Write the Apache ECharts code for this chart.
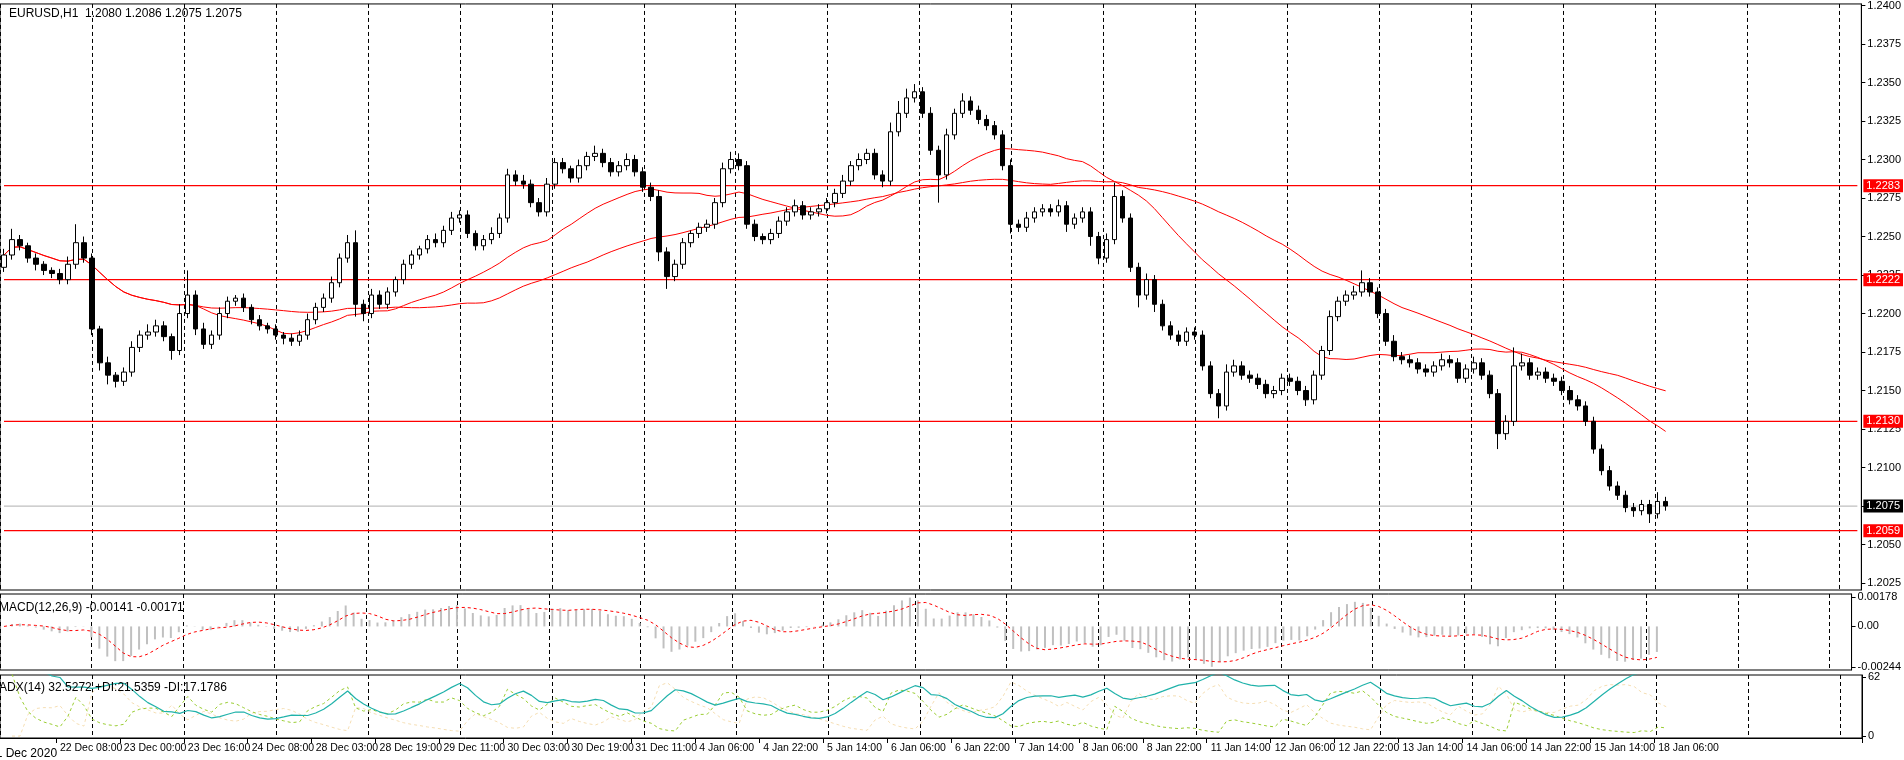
<!DOCTYPE html>
<html>
<head>
<meta charset="UTF-8">
<title>EURUSD,H1</title>
<script src="https://cdn.jsdelivr.net/npm/echarts@6/dist/echarts.min.js"></script>
<style>html,body{margin:0;background:#fff}#main{width:1904px;height:760px}</style>
</head>
<body>
<div id="main"></div>
<script>
// closes (one value per 2 hours)
var closes = [
1.2238,1.2248,1.2244,1.2236,1.2232,1.2228,1.2226,1.2222,1.2232,1.2246,1.2236,1.2190,1.2168,1.2160,1.2156,1.2162,1.2178,1.2186,1.2188,1.2192,
1.2185,1.2176,1.2200,1.2212,1.2190,1.2180,1.2186,1.2200,1.2208,1.2210,1.2204,1.2196,1.2192,1.2190,1.2186,1.2184,1.2182,1.2186,1.2196,1.2204,
1.2210,1.2220,1.2236,1.2246,1.2206,1.2200,1.2212,1.2206,1.2214,1.2222,1.2232,1.2238,1.2242,1.2248,1.2246,1.2254,1.2262,1.2264,1.2252,1.2244,
1.2248,1.2252,1.2262,1.2290,1.2286,1.2284,1.2272,1.2266,1.2284,1.2298,1.2294,1.2288,1.2296,1.2302,1.2304,1.2298,1.2292,1.2296,1.2300,1.2292,
1.2282,1.2276,1.2240,1.2224,1.2232,1.2246,1.2252,1.2256,1.2258,1.2272,1.2294,1.2300,1.2296,1.2258,1.2250,1.2248,1.2252,1.2260,1.2266,1.2270,
1.2264,1.2266,1.2268,1.2272,1.2278,1.2286,1.2296,1.2300,1.2304,1.2290,1.2286,1.2318,1.2330,1.2340,1.2344,1.2330,1.2306,1.2290,1.2316,1.2330,
1.2338,1.2332,1.2326,1.2322,1.2316,1.2296,1.2258,1.2256,1.2262,1.2266,1.2268,1.2266,1.2270,1.2258,1.2262,1.2266,1.2250,1.2236,1.2248,1.2276,
1.2262,1.2230,1.2212,1.2222,1.2206,1.2192,1.2186,1.2182,1.2188,1.2186,1.2166,1.2148,1.2140,1.2162,1.2166,1.2160,1.2158,1.2154,1.2148,1.2150,
1.2158,1.2156,1.2150,1.2144,1.2160,1.2176,1.2198,1.2208,1.2212,1.2214,1.2220,1.2214,1.2200,1.2182,1.2172,1.2170,1.2168,1.2164,1.2162,1.2166,
1.2170,1.2168,1.2158,1.2164,1.2168,1.2160,1.2148,1.2122,1.2130,1.2166,1.2168,1.2160,1.2162,1.2158,1.2156,1.2150,1.2144,1.2140,1.2130,1.2112,
1.2098,1.2088,1.2082,1.2074,1.2072,1.2076,1.2070,1.2078,1.2075
];
var firstOpen = 1.2230;
// wick lengths above / below the body, in pips
var wickHi = [
4,7,3,2,3,2,2,3,5,12,4,3,2,4,2,3,4,3,5,4, 3,2,6,16,3,4,3,4,3,2,3,2,3,2,3,2,3,3,4,3,
3,4,3,5,8,3,4,3,3,2,3,3,2,3,4,3,4,3,3,2, 3,4,3,4,3,4,3,3,4,3,3,2,4,3,5,3,3,3,4,3,
3,3,4,3,3,3,2,3,3,3,4,5,4,3,3,2,3,3,3,4, 3,3,3,3,3,4,3,4,3,3,3,6,8,6,5,3,4,3,4,3,
5,3,3,3,3,3,4,3,4,3,3,3,4,3,3,3,3,3,4,9, 4,3,3,4,3,3,3,3,3,3,3,3,3,5,4,3,3,3,3,3,
3,3,3,3,3,3,4,3,3,4,8,3,3,3,4,3,3,3,3,3, 4,3,3,3,4,3,3,3,4,12,6,3,3,3,3,3,3,3,3,3,
3,3,3,3,3,3,3,6,3
];
var wickLo = [
3,3,3,3,4,3,3,3,3,3,3,4,5,6,4,3,3,3,3,3, 3,6,3,3,4,3,3,3,3,3,3,3,3,3,3,4,3,3,3,3,
3,3,3,3,8,5,3,3,3,3,3,3,3,3,3,3,3,3,3,3, 3,3,3,3,3,3,3,3,3,3,3,3,3,3,3,3,3,3,3,3,
3,3,6,8,3,3,3,3,3,3,3,3,3,3,3,3,3,3,3,3, 3,3,3,3,3,3,3,3,3,3,4,3,3,3,3,3,3,18,3,3,
3,3,3,3,3,3,6,3,3,3,3,3,3,5,3,3,6,4,3,3, 3,3,8,3,5,3,3,3,3,3,3,3,8,3,3,3,3,3,3,3,
3,3,3,4,3,3,3,3,3,3,3,3,3,3,3,3,3,3,3,3, 3,3,3,3,3,3,3,10,4,3,3,3,3,3,3,3,3,3,3,3,
3,3,3,3,4,3,6,3,3
];
var timeLabels = ['22 Dec 08:00','23 Dec 00:00','23 Dec 16:00','24 Dec 08:00','28 Dec 03:00','28 Dec 19:00',
  '29 Dec 11:00','30 Dec 03:00','30 Dec 19:00','31 Dec 11:00','4 Jan 06:00','4 Jan 22:00','5 Jan 14:00',
  '6 Jan 06:00','6 Jan 22:00','7 Jan 14:00','8 Jan 06:00','8 Jan 22:00','11 Jan 14:00','12 Jan 06:00',
  '12 Jan 22:00','13 Jan 14:00','14 Jan 06:00','14 Jan 22:00','15 Jan 14:00','18 Jan 06:00'];
var firstLabel = '21 Dec 2020';
var levelsRed = [1.2283, 1.2222, 1.2130, 1.2059];
var lastPrice = 1.2075;
var priceTicks = [1.2025,1.2050,1.2075,1.2100,1.2125,1.2150,1.2175,1.2200,1.2225,1.2250,1.2275,1.2300,1.2325,1.2350,1.2375,1.2400];
var macdTicks = [0.00178, 0, -0.00244];
var adxTicks = [0, 62];

var N = 233, n = closes.length;
var cats = [], candles = [], highs = [], lows = [];
for (var i = 0; i < N; i++) cats.push(i);
for (var i = 0; i < n; i++) {
    var o = i ? closes[i-1] : firstOpen, c = closes[i];
    var h = Math.max(o, c) + wickHi[i] / 10000, l = Math.min(o, c) - wickLo[i] / 10000;
    highs.push(h); lows.push(l);
    candles.push([o, c, l, h]);
}
function sma(arr, p) {
    var out = [];
    for (var i = 0; i < arr.length; i++) {
        var s = 0, k = 0;
        for (var j = Math.max(0, i - p + 1); j <= i; j++) { s += arr[j]; k++; }
        out.push(s / k);
    }
    return out;
}
function ema(arr, p) {
    var a = 2 / (p + 1), out = [arr[0]];
    for (var i = 1; i < arr.length; i++) out.push(out[i-1] + a * (arr[i] - out[i-1]));
    return out;
}
var maFast = sma(closes, 25), maSlow = sma(closes, 50);
var e1 = ema(closes, 6), e2 = ema(closes, 13);
var macd = e1.map(function (v, i) { return v - e2[i]; });
var signal = sma(macd, 5);

// Wilder ADX
var P = 6, trS = 0, pS = 0, mS = 0, adx = [], pdi = [], mdi = [], adxV = null;
for (var i = 0; i < n; i++) {
    if (i === 0) { adx.push(null); pdi.push(null); mdi.push(null); continue; }
    var tr = Math.max(highs[i] - lows[i], Math.abs(highs[i] - closes[i-1]), Math.abs(lows[i] - closes[i-1]));
    var up = highs[i] - highs[i-1], dn = lows[i-1] - lows[i];
    var pdm = up > dn && up > 0 ? up : 0, mdm = dn > up && dn > 0 ? dn : 0;
    trS = trS - trS / P + tr; pS = pS - pS / P + pdm; mS = mS - mS / P + mdm;
    var p = 100 * pS / trS, m = 100 * mS / trS;
    var dx = (p + m) ? 100 * Math.abs(p - m) / (p + m) : 0;
    adxV = adxV === null ? dx : adxV + (dx - adxV) / P;
    pdi.push(p); mdi.push(m); adx.push(adxV);
}

var font = 'Liberation Sans';
var grids = [
    {left: 0, right: 42, top: 0, height: 590},
    {left: 0, right: 42, top: 594, height: 76},
    {left: 0, right: 42, top: 675, height: 63}
];
grids.forEach(function (g) { g.show = true; g.borderColor = '#000'; g.borderWidth = 1; });

function showLabel(i) { return i % 8 === 7 && i < n; }
var xAxes = [], yAxes = [];
for (var g = 0; g < 3; g++) {
    xAxes.push({
        type: 'category', gridIndex: g, data: cats, boundaryGap: true,
        axisLine: {show: g === 2, onZero: false, lineStyle: {color: '#000'}},
        axisTick: {show: g === 2, interval: showLabel, length: 5, lineStyle: {color: '#000'}},
        axisLabel: {
            show: g === 2, interval: showLabel, hideOverlap: false,
            formatter: function (v) { return timeLabels[Math.floor(Number(v) / 8)] || ''; },
            align: 'left', margin: 5, color: '#000', fontFamily: font, fontSize: 10.5
        },
        splitLine: {show: false}
    });
    // dashed vertical grid, one line every 92 px
    xAxes.push({
        type: 'value', gridIndex: g, min: -65, max: 1797, interval: 92, show: true,
        axisLine: {show: false}, axisTick: {show: false}, axisLabel: {show: false},
        splitLine: {show: true, lineStyle: {color: '#000', type: [4, 3], width: 1}}
    });
}
function yAxis(g, min, max, ticks, fmt) {
    return {
        type: 'value', gridIndex: g, min: min, max: max, position: 'right',
        axisLine: {show: true, onZero: false, lineStyle: {color: '#000'}},
        axisTick: {show: true, length: 4, customValues: ticks, lineStyle: {color: '#000'}},
        axisLabel: {customValues: ticks, formatter: fmt, color: '#000', fontFamily: font, fontSize: 11, margin: 6},
        splitLine: {show: false}
    };
}
yAxes.push(yAxis(0, 1.20205, 1.2401, priceTicks, function (v) { return v.toFixed(4); }));
yAxes.push(yAxis(1, -0.00262, 0.00195, macdTicks, function (v) { return v === 0 ? '0.00' : v.toFixed(5); }));
yAxes.push(yAxis(2, -2, 64, adxTicks, function (v) { return String(v); }));

// horizontal levels as flat series with a label past the right end
function levelSeries(v, lineColor, boxColor) {
    return {type: 'line', xAxisIndex: 0, yAxisIndex: 0, silent: true, showSymbol: false, z: 1,
        data: cats.map(function () { return v; }),
        lineStyle: {color: lineColor, width: 1.2},
        endLabel: {show: true, formatter: v.toFixed(4), backgroundColor: boxColor, color: '#fff',
            fontFamily: font, fontSize: 11, padding: [1, 3], distance: 6}};
}
var levelSer = levelsRed.map(function (v) { return levelSeries(v, '#ff0000', '#ff0000'); });
levelSer.push(levelSeries(lastPrice, '#c0c0c0', '#000'));

var chart = echarts.init(document.getElementById('main'));
chart.setOption({
    animation: false,
    backgroundColor: '#fff',
    textStyle: {fontFamily: font},
    title: [
        {text: 'EURUSD,H1  1.2080 1.2086 1.2075 1.2075', left: 4, top: 3},
        {text: 'MACD(12,26,9) -0.00141 -0.00171', left: -6, top: 597},
        {text: 'ADX(14) 32.5272 +DI:21.5359 -DI:17.1786', left: -6, top: 677},
        {text: firstLabel, left: -16, top: 743}
    ].map(function (t) { t.textStyle = {fontSize: 12, fontWeight: 'normal', color: '#000', fontFamily: font}; return t; }),
    grid: grids,
    xAxis: xAxes,
    yAxis: yAxes,
    series: levelSer.concat([
        {type: 'candlestick', xAxisIndex: 0, yAxisIndex: 0, data: candles, barWidth: 5, z: 3,
            itemStyle: {color: '#fff', color0: '#000', borderColor: '#000', borderColor0: '#000', borderWidth: 1}},
        {type: 'line', xAxisIndex: 0, yAxisIndex: 0, data: maFast, showSymbol: false,
            lineStyle: {color: '#ff0000', width: 1}},
        {type: 'line', xAxisIndex: 0, yAxisIndex: 0, data: maSlow, showSymbol: false,
            lineStyle: {color: '#ff0000', width: 1}},
        {type: 'bar', xAxisIndex: 2, yAxisIndex: 1, data: macd, barWidth: 2,
            itemStyle: {color: '#c0c0c0'}},
        {type: 'line', xAxisIndex: 2, yAxisIndex: 1, data: signal, showSymbol: false,
            lineStyle: {color: '#ff0000', width: 1, type: [3, 3]}},
        {type: 'line', xAxisIndex: 4, yAxisIndex: 2, data: mdi, showSymbol: false,
            lineStyle: {color: '#f5deb3', width: 1, type: [3, 3]}},
        {type: 'line', xAxisIndex: 4, yAxisIndex: 2, data: pdi, showSymbol: false,
            lineStyle: {color: '#9acd32', width: 1, type: [3, 3]}},
        {type: 'line', xAxisIndex: 4, yAxisIndex: 2, data: adx, showSymbol: false,
            lineStyle: {color: '#20b2aa', width: 1.2}}
    ])
});
</script>
</body>
</html>
